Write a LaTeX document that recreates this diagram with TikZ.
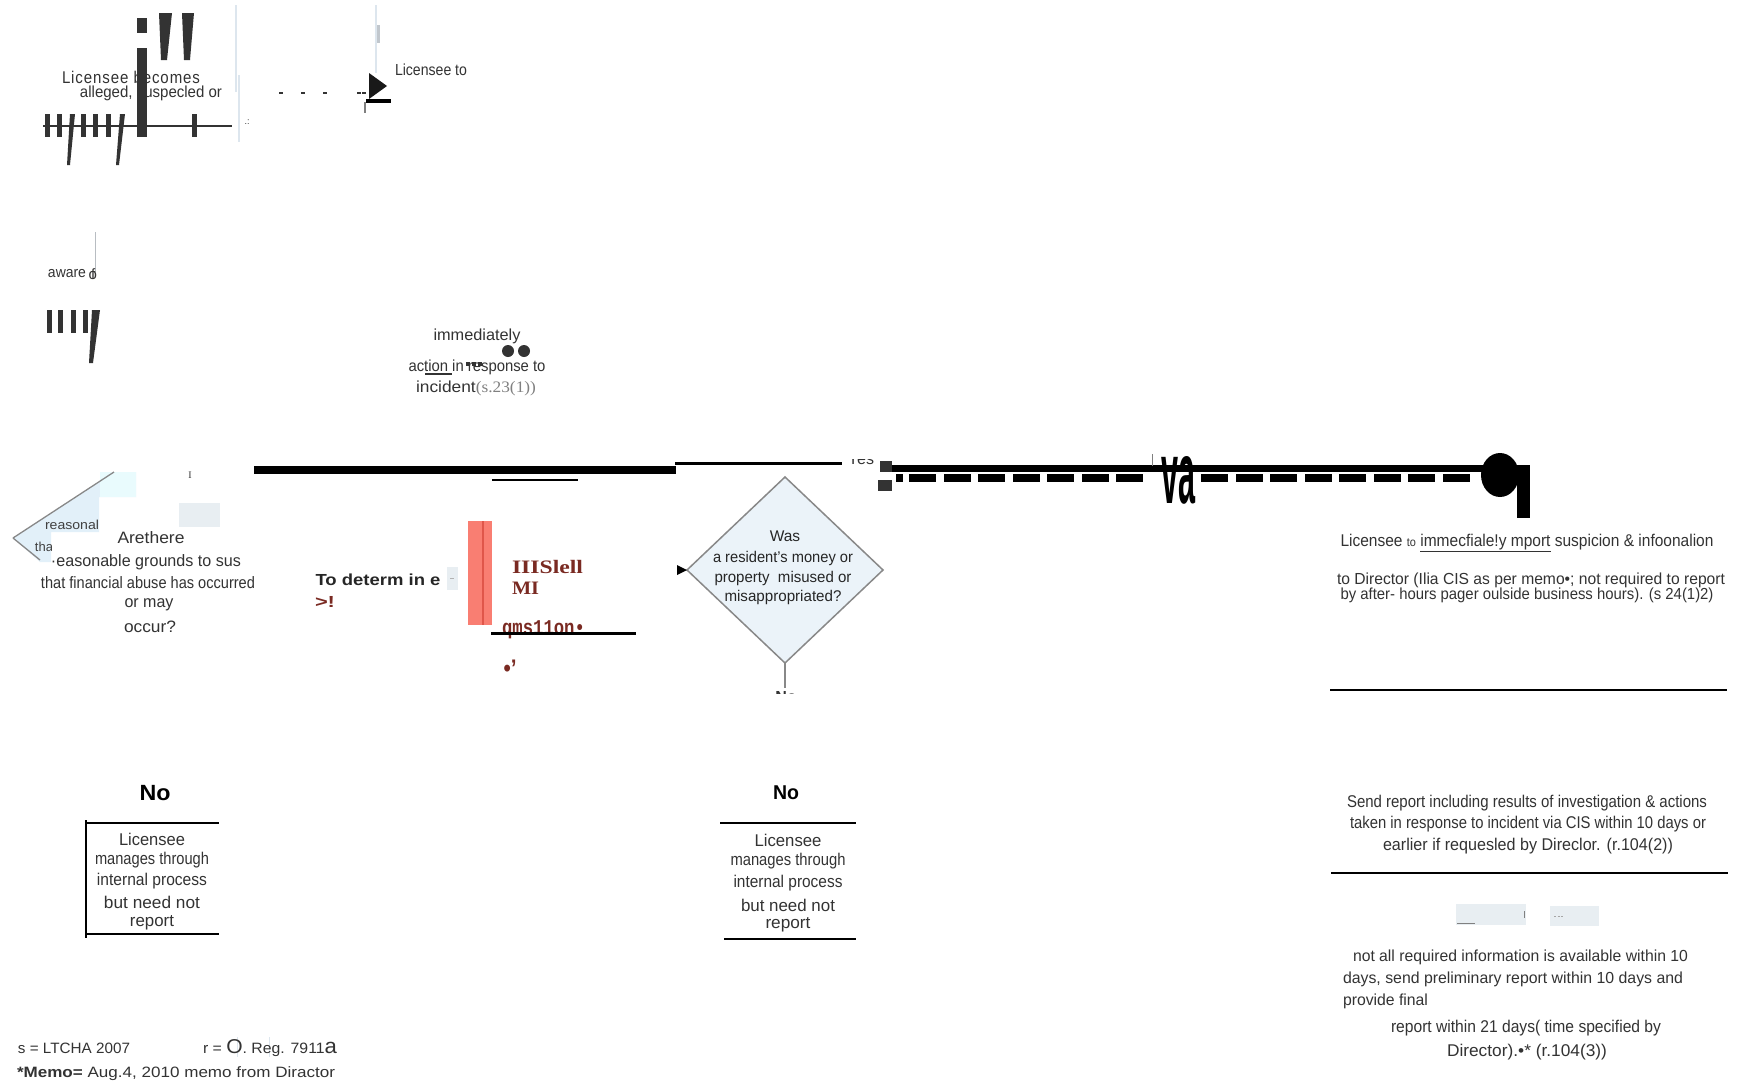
\documentclass[tikz,border=0pt]{standalone}
\usepackage{fontspec}
\usepackage{graphicx}
\usetikzlibrary{shapes.geometric}
\setmainfont{Liberation Sans}
\newfontfamily\spacedface[LetterSpace=6]{Liberation Sans}
\newfontfamily\serifface{Liberation Serif}
\newfontfamily\monoface{Liberation Mono}
\newcommand\W[2]{\resizebox{#1pt}{\height}{#2}}
\definecolor{tg}{HTML}{333333}
\definecolor{tdark}{HTML}{262626}
\definecolor{brn}{HTML}{7A2A22}
\definecolor{salmon}{HTML}{F97E72}
\definecolor{salmond}{HTML}{E0564A}
\definecolor{lblue}{HTML}{E2F0F9}
\definecolor{lgrey}{HTML}{DDE6EE}
\definecolor{pale}{HTML}{E8EEF2}
\definecolor{dgrey}{HTML}{888888}
\definecolor{dfill}{HTML}{EBF3F9}
\begin{document}
\begin{tikzpicture}[x=1pt,y=-1pt,
  txt/.style={inner sep=0pt,outer sep=0pt,text=tg},
  fs/.style={font=\fontsize{#1}{#1}\selectfont},
  bfs/.style={font=\fontsize{#1}{#1}\selectfont\bfseries},
  thin/.style={line width=2pt,draw=black},
  faint/.style={line width=2pt,draw=lgrey},
  decision/.style={diamond,draw=dgrey,line width=1.5pt,fill=dfill,inner sep=0pt,outer sep=0pt}]
\useasboundingbox (0,0) rectangle (1746,1084);
\fill[white] (0,0) rectangle (1746,1084);

% ---------- top left ----------
\node[txt,font=\spacedface\fontsize{17}{17}\selectfont] (t1) at (131,77) {\W{138}{Licensee becomes}};
\node[txt,fs=16] (t2) at (151,93) {\W{142}{alleged, suspecled or}};
\coordinate (hl1) at (43,126); \coordinate (hl2) at (232,126);
\draw[tg,line width=2.7pt] (hl1) -- (hl2);
\foreach \x in {45,57,81,93,106,192} \fill[tg] (\x,114) rectangle ++(5,23);
\fill[tg] (70,114) -- (75,114) -- (70,165) -- (67,165) -- cycle;
\fill[tg] (120,114) -- (125,114) -- (119,165) -- (116,165) -- cycle;
\fill[tg] (137,18) rectangle (147,33);
\fill[tg] (137,48) rectangle (147,137);
\fill[tg] (159,13) -- (172,13) -- (167,60) -- (161,60) -- cycle;
\fill[tg] (182,13) -- (194,13) -- (190,60) -- (184,60) -- cycle;
\draw[faint] (236,5) -- (236,92);
\draw[faint] (239,75) -- (239,142);
\draw[faint] (376,5) -- (376,73);
\fill[lgrey!70!gray] (377,25) rectangle (380,43);
\node[txt,fs=9] (dots) at (247,122) {.:};
\foreach \x in {279,301,323,357,362} \draw[tg,line width=1.3pt] (\x,93) -- ++(4,0);
\coordinate (tip) at (387,86);
\fill[black!90] (369,73) -- (tip) -- (369,99) -- cycle;
\fill[black] (366,99) rectangle (391,103);
\draw[gray,line width=1.2pt] (365,102) -- (365,113);
\node[txt,fs=16] (t3) at (431,70) {\W{72}{Licensee to}};

% ---------- aware of ----------
\draw[lgrey!60!gray,line width=1pt] (95,232) -- (95,272);
\node[txt,fs=15] (t4) at (67,274) {\W{38}{aware}};
\node[txt,fs=15] (t4b) at (92,274) {o\kern-6pt f};
\foreach \x in {47,58,71,83} \fill[tg] (\x,310) rectangle ++(5,23);
\fill[tg] (92,310) -- (100,310) -- (93,363) -- (89,363) -- cycle;

% ---------- immediately ----------
\node[txt,fs=16] (t5) at (477,336) {\W{87}{immediately}};
\fill[tg] (508,351) circle[radius=6pt];
\fill[tg] (524,351) circle[radius=6pt];
\node[txt,fs=16] (t6) at (477,367) {\W{137}{action in response to}};
\foreach \x in {466,472,478} \fill[tg] (\x,362) rectangle ++(4,4);
\draw[tg,line width=1.2pt] (425,374) -- (452,374);
\node[txt,fs=16] (t7) at (476,388) {\W{120}{incident{\serifface\color{gray} (s.23(1))}}};

% ---------- left diamond ----------
\fill[lblue] (13,538) -- (114,472) -- (136,472) -- (136,497) -- (99,497) -- (99,532) -- (51,532) -- (51,562) -- (40,562) -- cycle;
\fill[lblue!80!cyan!30] (100,472) rectangle (136,497);
\draw[dgrey,line width=1.3pt] (13,538) -- (114,472);
\draw[dgrey,line width=1.3pt] (13,538) -- (40,560);
\fill[pale] (179,503) rectangle (220,527);
\node[txt,font=\serifface\fontsize{10}{10}\selectfont] (t15) at (190,475) {I};
\node[txt,fs=13,text=black!75] (t8) at (72,525) {\W{54}{reasonal}};
\begin{scope}
\clip (30,535) rectangle (51,560);
\node[txt,fs=13,text=black!75] (t9) at (44,547) {tha};
\end{scope}
\node[txt,fs=16.5] (t10) at (151,538) {\W{67}{Arethere}};
\node[txt,fs=16.5] (t11) at (146,562) {\W{190}{·easonable grounds to sus}};
\node[txt,fs=16.5] (t12) at (148,583) {\W{214}{that financial abuse has occurred}};
\node[txt,fs=16.5] (t13) at (149,605) {\W{49}{or may}};
\node[txt,fs=16.5] (t14) at (150,627) {\W{52}{occur?}};

% ---------- thick connector ----------
\coordinate (c1) at (254,470); \coordinate (c2) at (676,470);
\draw[black,line width=8pt] (c1) -- (c2);
\draw[thin] (492,480) -- (578,480);
\coordinate (c3) at (675,463); \coordinate (c4) at (842,463);
\draw[black,line width=3pt] (c3) -- (c4);
\begin{scope}
\clip (838,459) rectangle (880,467);
\node[txt,fs=16] (yes) at (861,459) {Yes};
\end{scope}
\fill[tg] (880,461) rectangle (892,472);
\fill[tg] (878,480) rectangle (892,491);
\fill[black] (892,465) rectangle (1492,472);
\fill[black] (896,474) rectangle (903,482);
\foreach \x in {909,943.5,978,1012.5,1047,1081.5,1116,1201,1235.5,1270,1304.5,1339,1373.5,1408,1442.5}
  \fill[black] (\x,474) rectangle ++(27,8);
\draw[gray,line width=1pt] (1152,454) -- (1152,466);
\node[txt,text=black] (va) at (1178,480) {\resizebox{34pt}{47pt}{\bfseries va}};
\fill[black] (1500,475) ellipse[x radius=19pt,y radius=22pt];
\fill[black] (1517,465) rectangle (1530,518);

% ---------- to determine ----------
\node[txt,bfs=16,text=tdark] (t16) at (378,580) {\W{125}{To determ in e}};
\fill[pale] (447,567) rectangle (458,590);
\draw[gray!60,line width=1pt] (450,578) -- (454,578);
\node[txt,bfs=16,text=brn] (t17) at (325,602) {\W{20}{>!}};
\fill[salmon] (468,521) rectangle (492,625);
\draw[salmond,line width=2pt] (483,521) -- (483,625);
\node[txt,font=\serifface\bfseries\fontsize{19}{19}\selectfont,text=brn,anchor=west] (t18) at (512,567) {\W{71}{IIISlell}};
\node[txt,font=\serifface\bfseries\fontsize{19}{19}\selectfont,text=brn,anchor=west] (t19) at (512,588) {\W{27}{MI}};
\node[txt,font=\monoface\bfseries\fontsize{21}{21}\selectfont,text=brn,anchor=west] (t20) at (502,630) {\W{83}{qms11on•}};
\coordinate (s1) at (491,633); \coordinate (s2) at (636,633);
\draw[black,line width=3pt] (s1) -- (s2);
\node[txt,bfs=24,text=brn] (t21) at (510,668) {\W{13}{•'}};

% ---------- centre diamond ----------
\node[decision,minimum width=196pt,minimum height=186pt] (dm) at (785,570) {};
\coordinate (dl) at (687,570);
\fill[black] (677,565) -- (dm.west) -- (677,575) -- cycle;
\node[txt,fs=15.5,text=tdark] (d1) at (785,536) {Was};
\node[txt,fs=15.5,text=tdark] (d2) at (783,558) {\W{140}{a resident's money or}};
\node[txt,fs=15.5,text=tdark] (d3) at (783,578) {\W{137}{property\ \ misused or}};
\node[txt,fs=15.5,text=tdark] (d4) at (783,597) {\W{117}{misappropriated?}};
\coordinate (db2) at (785,688);
\draw[dgrey,line width=1.5pt] (dm.south) -- (db2);
\begin{scope}
\clip (770,686) rectangle (800,693);
\node[txt,bfs=16] (nofrag) at (786,697) {No};
\end{scope}

% ---------- left box ----------
\node[txt,bfs=22,text=black] (no1) at (155,793) {\W{31}{No}};
\draw[thin] (86,823) -- (219,823);
\draw[thin] (86,934) -- (219,934);
\draw[line width=1.8pt] (86,820) -- (86,938);
\node[txt,fs=17] (b1) at (152,839) {\W{66}{Licensee}};
\node[txt,fs=17] (b2) at (152,860) {\W{114}{manages through}};
\node[txt,fs=17] (b3) at (152,881) {\W{110}{internal process}};
\node[txt,fs=17] (b4) at (152,902) {\W{96}{but need not}};
\node[txt,fs=17] (b5) at (152,923) {\W{44}{report}};

% ---------- right box ----------
\node[txt,bfs=20,text=black] (no2) at (786,793) {\W{26}{No}};
\draw[thin] (720,823) -- (856,823);
\draw[thin] (724,939) -- (856,939);
\node[txt,fs=17] (r1) at (788,840) {\W{67}{Licensee}};
\node[txt,fs=17] (r2) at (788,861) {\W{115}{manages through}};
\node[txt,fs=17] (r3) at (788,883) {\W{109}{internal process}};
\node[txt,fs=17] (r4) at (788,905) {\W{94}{but need not}};
\node[txt,fs=17] (r5) at (788,925) {\W{45}{report}};

% ---------- right block ----------
\node[txt,fs=17] (p1) at (1527,543) {\W{373}{Licensee {\fontsize{12}{12}\selectfont to} \underline{immecfiale!y mport} suspicion \& infoonalion}};
\node[txt,fs=16] (p2) at (1531,580) {\W{388}{to Director (Ilia CIS as per memo•; not required to report}};
\node[txt,fs=16] (p3) at (1527,595) {\W{373}{by after- hours pager oulside business hours). (s 24(1)2)}};
\draw[thin] (1330,690) -- (1727,690);
\node[txt,fs=17] (p4) at (1527,803) {\W{360}{Send report including results of investigation \& actions}};
\node[txt,fs=17] (p5) at (1528,824) {\W{356}{taken in response to incident via CIS within 10 days or}};
\node[txt,fs=17] (p6) at (1528,846) {\W{290}{earlier if requesled by Direclor. (r.104(2))}};
\draw[thin] (1331,873) -- (1728,873);
\fill[pale] (1456,904) rectangle (1526,925);
\draw[gray,line width=1pt] (1457,923) -- (1475,923);
\draw[gray,line width=0.8pt] (1524,911) -- (1524,918);
\fill[pale] (1550,906) rectangle (1599,926);
\draw[gray!70,line width=0.6pt,dash pattern=on 2pt off 1.5pt] (1554,916) -- (1564,916);
\node[txt,fs=16,anchor=west] (p7) at (1353,957) {\W{335}{not all required information is available within 10}};
\node[txt,fs=16,anchor=west] (p8) at (1343,979) {\W{340}{days, send preliminary report within 10 days and}};
\node[txt,fs=16,anchor=west] (p9) at (1343,1001) {\W{85}{provide final}};
\node[txt,fs=17] (p10) at (1526,1028) {\W{270}{report within 21 days( time specified by}};
\node[txt,fs=17] (p11) at (1527,1052) {\W{160}{Director).•* (r.104(3))}};

% ---------- footer ----------
\draw[lgrey,line width=1pt] (237,1037) -- (237,1057);
\draw[lgrey,line width=1pt] (269,1037) -- (269,1057);
\node[txt,fs=15,anchor=base west] (f1) at (18,1053) {\W{112}{s = LTCHA 2007}};
\node[txt,fs=15,anchor=base west] (f2) at (203,1053) {\W{134}{r = {\fontsize{20}{20}\selectfont O}. Reg. 7911{\fontsize{21}{21}\selectfont a}}};
\node[txt,fs=15,anchor=base west] (f3) at (17,1077) {\W{318}{\textbf{*Memo=} Aug.4, 2010 memo from Diractor}};
\end{tikzpicture}
\end{document}
